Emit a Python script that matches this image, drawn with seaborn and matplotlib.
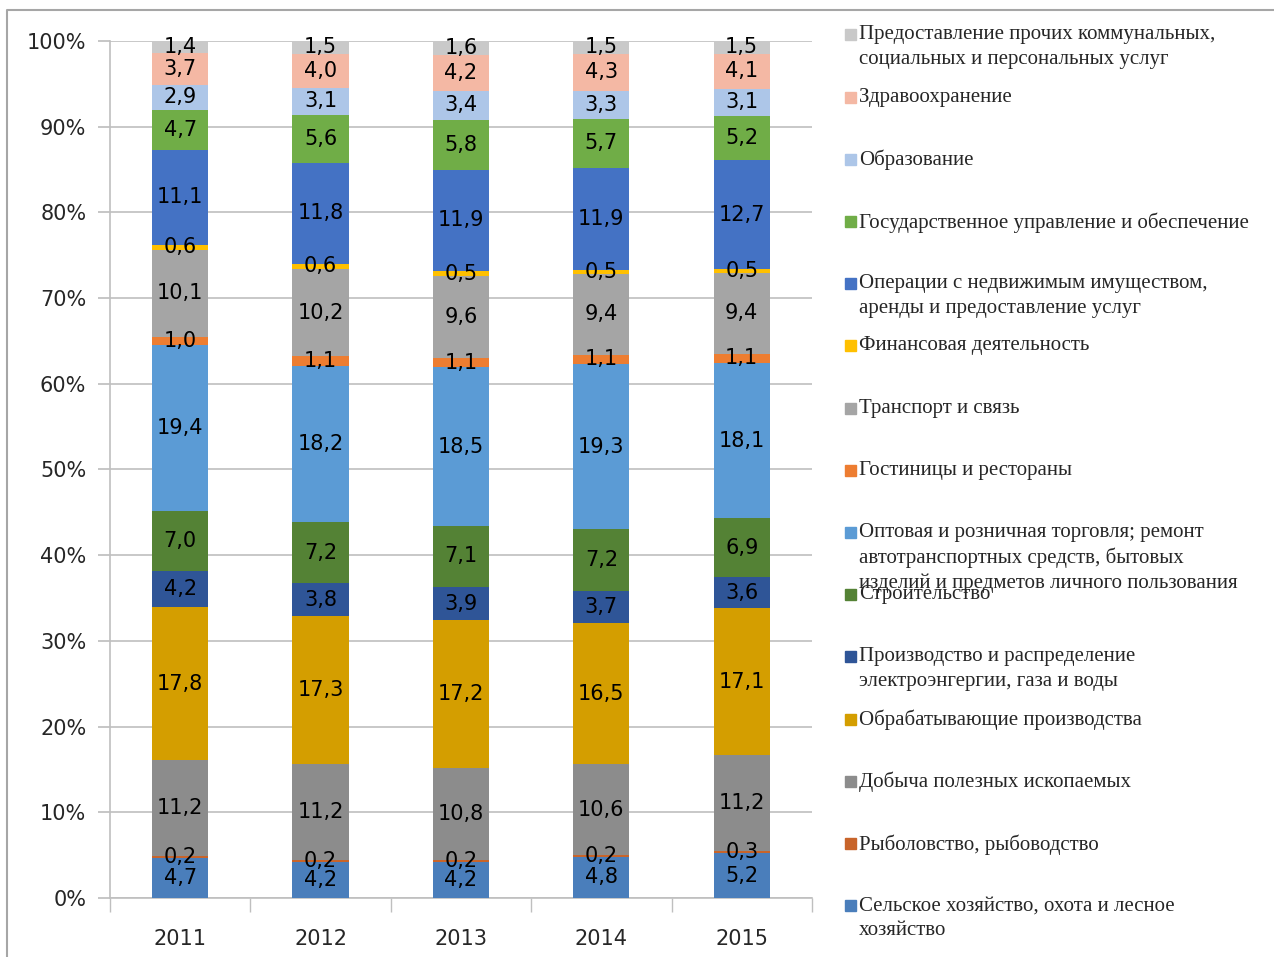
import numpy as np
import pandas as pd
import matplotlib
matplotlib.use("Agg")
import matplotlib.pyplot as plt
from matplotlib.patches import Rectangle
from matplotlib.lines import Line2D
import seaborn as sns

years = ["2011", "2012", "2013", "2014", "2015"]

# bottom -> top of the stack
categories = [
    "Сельское хозяйство, охота и лесное\nхозяйство",
    "Рыболовство, рыбоводство",
    "Добыча полезных ископаемых",
    "Обрабатывающие производства",
    "Производство и распределение\nэлектроэнгергии, газа и воды",
    "Строительство",
    "Оптовая и розничная торговля; ремонт\nавтотранспортных средств, бытовых\nизделий и предметов личного пользования",
    "Гостиницы и рестораны",
    "Транспорт и связь",
    "Финансовая деятельность",
    "Операции с недвижимым имуществом,\nаренды и предоставление услуг",
    "Государственное управление и обеспечение",
    "Образование",
    "Здравоохранение",
    "Предоставление прочих коммунальных,\nсоциальных и персональных услуг",
]

agriculture = [4.7, 4.2, 4.2, 4.8, 5.2]
fishing = [0.2, 0.2, 0.2, 0.2, 0.3]
mining = [11.2, 11.2, 10.8, 10.6, 11.2]
manufacturing = [17.8, 17.3, 17.2, 16.5, 17.1]
utilities = [4.2, 3.8, 3.9, 3.7, 3.6]
construction = [7.0, 7.2, 7.1, 7.2, 6.9]
trade = [19.4, 18.2, 18.5, 19.3, 18.1]
hotels = [1.0, 1.1, 1.1, 1.1, 1.1]
transport = [10.1, 10.2, 9.6, 9.4, 9.4]
finance = [0.6, 0.6, 0.5, 0.5, 0.5]
real_estate = [11.1, 11.8, 11.9, 11.9, 12.7]
government = [4.7, 5.6, 5.8, 5.7, 5.2]
education = [2.9, 3.1, 3.4, 3.3, 3.1]
health = [3.7, 4.0, 4.2, 4.3, 4.1]
other_services = [1.4, 1.5, 1.6, 1.5, 1.5]

series = [agriculture, fishing, mining, manufacturing, utilities, construction,
          trade, hotels, transport, finance, real_estate, government,
          education, health, other_services]

colors = ["#4A7EBB", "#C8642A", "#8C8C8C", "#D49E00", "#2F5597", "#548235",
          "#5B9BD5", "#ED7D31", "#A5A5A5", "#FFC000", "#4472C4", "#70AD47",
          "#ADC6E8", "#F4B8A4", "#C9C9C9"]

sns.set_theme(style="white")
plt.rcParams["font.family"] = ["DejaVu Sans"]

fig = plt.figure(figsize=(12.74, 9.57), dpi=100)
ax = fig.add_axes([0.0863, 0.0617, 0.5510, 0.8955])

bottom = np.zeros(len(years))
for vals, col in zip(series, colors):
    vals = np.array(vals) / 100.0
    df = pd.DataFrame({"year": years, "share": vals})
    sns.barplot(data=df, x="year", y="share", color=col, saturation=1,
                width=0.4, bottom=bottom, errorbar=None, ax=ax, zorder=3,
                linewidth=0, edgecolor=col)
    for i, v in enumerate(vals):
        ax.text(i, bottom[i] + v / 2, f"{v*100:.1f}".replace(".", ","),
                ha="center", va="center", fontsize=15, color="black", zorder=4)
    bottom += vals

ax.set_xlim(-0.5, 4.5)
ax.set_ylim(0, 1)
ax.set_yticks(np.arange(0, 1.01, 0.1))
ax.set_yticklabels([f"{int(round(t*100))}%" for t in np.arange(0, 1.01, 0.1)])
ax.yaxis.grid(True, color="#BFBFBF", linewidth=1.2, zorder=0)
ax.set_xlabel("")
ax.set_ylabel("")
for s in ["top", "right"]:
    ax.spines[s].set_visible(False)
ax.spines["left"].set_color("#BFBFBF")
ax.spines["bottom"].set_color("#BFBFBF")
ax.spines["left"].set_linewidth(1.2)
ax.spines["bottom"].set_linewidth(1.2)
ax.tick_params(axis="y", which="both", left=True, length=9, color="#BFBFBF",
               labelsize=15, pad=8)
ax.set_xticks(np.arange(-0.5, 4.6, 1), minor=True)
ax.tick_params(axis="x", which="major", bottom=False, labelsize=15, pad=16)
ax.tick_params(axis="x", which="minor", bottom=True, length=10, color="#BFBFBF")

# legend, drawn as evenly spaced entries (reversed order, top is last category)
leg_top = 0.964
leg_step = 62.2 / 957
for k, (lab, col) in enumerate(zip(categories[::-1], colors[::-1])):
    y = leg_top - k * leg_step
    fig.add_artist(Rectangle((845 / 1274, y - 6 / 957), 11 / 1274, 11 / 957,
                             transform=fig.transFigure, color=col))
    fig.text(859 / 1274, y + 9 / 957, lab, ha="left", va="top",
             fontsize=15, family="Liberation Serif", linespacing=1.38)

# chart border
fig.add_artist(Line2D([7 / 1274, 7 / 1274, 1.0], [0.0, 1 - 10 / 957, 1 - 10 / 957],
                      transform=fig.transFigure, color="#A6A6A6", linewidth=1.5))

fig.savefig("out.png", dpi=100)
